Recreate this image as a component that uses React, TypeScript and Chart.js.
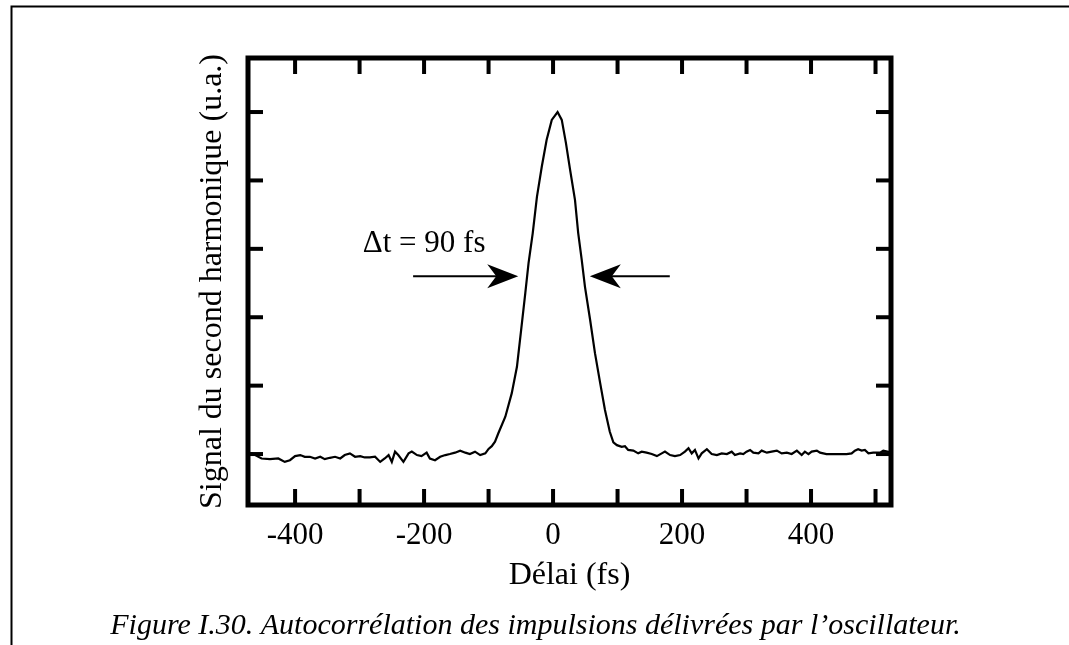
import React, { useEffect, useRef } from "react";
import { Chart, registerables } from "chart.js";

Chart.register(...registerables);

// ---- data ----
const delays = [
  -472, -467, -452, -439, -426, -416, -408, -400, -392, -385, -377, -369, -361, -354, -346, -338,
  -330, -323, -315, -307, -299, -292, -284, -276, -268, -261, -255, -250, -245, -240, -232, -224,
  -219, -211, -204, -196, -191, -183, -175, -167, -160, -152, -144, -136, -129, -121, -113, -105,
  -100, -95, -90, -85, -74, -64, -56, -50, -43, -38, -31.5, -25, -17.5, -10, -2, 7,
  13.5, 20, 26.5, 34, 39, 44.5, 49.5, 57.5, 65, 73, 80.5, 88, 93.5, 99, 106.5, 111.5,
  116.5, 124.5, 132, 137.5, 145, 153, 161, 168.5, 173.5, 181.5, 189, 197, 204.5, 210, 215, 220,
  225.5, 230.5, 238.5, 246, 254, 261.5, 269.5, 277, 282, 290, 295, 300, 305.5, 310.5, 318.5, 323.5,
  331.5, 339, 347, 354.5, 362.5, 370, 378, 385.5, 390.5, 396, 401, 409, 414, 424, 435, 445,
  455, 463, 468, 473, 478.5, 483.5, 489, 496.5, 507, 512, 522,
];
const signal = [
  0.002, 0.002, -0.013, -0.015, -0.013, -0.023, -0.018, -0.006, -0.003, -0.008, -0.008, -0.013, -0.008, -0.015, -0.011, -0.008,
  -0.013, -0.003, 0.002, -0.008, -0.006, -0.01, -0.01, -0.008, -0.023, -0.013, -0.003, -0.023, 0.007, -0.003, -0.023, 0.002,
  0.007, -0.003, -0.006, 0.004, -0.013, -0.018, -0.008, -0.003, 0.0, 0.004, 0.01, 0.004, 0.0, 0.007, -0.003, 0.002,
  0.015, 0.023, 0.036, 0.06, 0.109, 0.178, 0.255, 0.354, 0.471, 0.558, 0.646, 0.752, 0.84, 0.918, 0.977, 1.0,
  0.977, 0.909, 0.83, 0.743, 0.646, 0.567, 0.489, 0.392, 0.295, 0.208, 0.129, 0.065, 0.034, 0.026, 0.021, 0.023,
  0.012, 0.01, 0.002, 0.007, 0.004, 0.0, -0.006, 0.002, 0.007, -0.003, -0.006, -0.003, 0.007, 0.017, 0.002, 0.012,
  -0.013, 0.002, 0.014, 0.0, -0.003, 0.002, 0.0, 0.007, -0.003, 0.002, 0.0, 0.007, 0.012, 0.004, 0.002, 0.01,
  0.004, 0.007, 0.01, 0.002, 0.004, 0.0, 0.01, -0.003, 0.007, 0.0, 0.007, 0.01, 0.004, 0.0, 0.0, 0.0,
  0.0, 0.002, 0.01, 0.014, 0.01, 0.012, 0.002, 0.004, 0.004, 0.01, 0.006,
];

const xMin = -473;
const xMax = 524;
const xTickValues = [-400, -300, -200, -100, 0, 100, 200, 300, 400, 500];
const xLabelledTicks = [-400, -200, 0, 200, 400];
const yMin = -0.149;
const yMax = 1.158;
const yTickValues = [0, 0.2, 0.4, 0.6, 0.8, 1.0];

const xTitle = "Délai (fs)";
const yTitle = "Signal du second harmonique (u.a.)";
const caption = "Figure I.30. Autocorrélation des impulsions délivrées par l’oscillateur.";

const annotationText = "Δt = 90 fs";
const annotationAt = [-295, 0.591]; // [delay, signal] of text baseline start
const arrowY = 0.52;
const leftArrow = [-217, -54]; // [tail, tip]
const rightArrow = [181, 57]; // [tail, tip]

const FONT = "'Liberation Serif', 'Times New Roman', serif";

function drawArrow(ctx: CanvasRenderingContext2D, x0: number, x1: number, y: number) {
  const dir = x1 > x0 ? 1 : -1;
  const len = 31;
  const half = 12;
  const notch = 9;
  ctx.beginPath();
  ctx.moveTo(x0, y);
  ctx.lineTo(x1 - dir * notch, y);
  ctx.lineWidth = 2;
  ctx.stroke();
  ctx.beginPath();
  ctx.moveTo(x1, y);
  ctx.lineTo(x1 - dir * len, y - half);
  ctx.lineTo(x1 - dir * (len - notch), y);
  ctx.lineTo(x1 - dir * len, y + half);
  ctx.closePath();
  ctx.fill();
}

const framePlugin = {
  id: "frameAndMarks",
  beforeDraw(chart: any) {
    const ctx = chart.ctx as CanvasRenderingContext2D;
    ctx.save();
    ctx.fillStyle = "#ffffff";
    ctx.fillRect(0, 0, chart.width, chart.height);
    ctx.strokeStyle = "#000";
    ctx.lineWidth = 2;
    ctx.beginPath();
    ctx.moveTo(11.5, chart.height);
    ctx.lineTo(11.5, 6.5);
    ctx.lineTo(chart.width, 6.5);
    ctx.stroke();
    ctx.restore();
  },
  afterDraw(chart: any) {
    const ctx = chart.ctx as CanvasRenderingContext2D;
    const a = chart.chartArea;
    const x = chart.scales.x;
    const y = chart.scales.y;
    ctx.save();
    ctx.fillStyle = "#000";
    ctx.strokeStyle = "#000";
    for (const t of x.ticks) {
      const px = x.getPixelForValue(t.value);
      ctx.fillRect(px - 2, a.bottom - 16, 4, 16);
      ctx.fillRect(px - 2, a.top, 4, 16);
    }
    for (const t of y.ticks) {
      const py = y.getPixelForValue(t.value);
      ctx.fillRect(a.left, py - 2, 15, 4);
      ctx.fillRect(a.right - 15, py - 2, 15, 4);
    }
    ctx.lineWidth = 5;
    ctx.strokeRect(a.left, a.top, a.right - a.left, a.bottom - a.top);

    ctx.font = `31px ${FONT}`;
    ctx.textAlign = "left";
    ctx.textBaseline = "alphabetic";
    ctx.fillText(annotationText, x.getPixelForValue(annotationAt[0]), y.getPixelForValue(annotationAt[1]));

    const ay = y.getPixelForValue(arrowY);
    drawArrow(ctx, x.getPixelForValue(leftArrow[0]), x.getPixelForValue(leftArrow[1]), ay);
    drawArrow(ctx, x.getPixelForValue(rightArrow[0]), x.getPixelForValue(rightArrow[1]), ay);
    ctx.restore();
  },
};

export default function App() {
  const ref = useRef<HTMLCanvasElement | null>(null);
  useEffect(() => {
    document.body.style.margin = "0";
    const canvas = ref.current!;
    const chart = new Chart(canvas, {
      type: "line",
      data: {
        datasets: [
          {
            data: delays.map((d, i) => ({ x: d, y: signal[i] })),
            borderColor: "#000",
            borderWidth: 2.2,
            pointRadius: 0,
            tension: 0,
            fill: false,
          },
        ],
      },
      options: {
        responsive: false,
        animation: false,
        events: [],
        layout: { padding: { left: 100, right: 98, top: 58, bottom: 0 } },
        plugins: {
          legend: { display: false },
          tooltip: { enabled: false },
          title: {
            display: true,
            position: "bottom",
            text: caption,
            color: "#000",
            font: { family: FONT, size: 30, style: "italic", weight: "normal", lineHeight: 1.2 },
            padding: { top: 0, bottom: 1 },
          },
        },
        scales: {
          x: {
            type: "linear",
            min: xMin,
            max: xMax,
            border: { display: false },
            grid: { display: false, drawTicks: false },
            afterBuildTicks: (s: any) => {
              s.ticks = xTickValues.map((v) => ({ value: v }));
            },
            ticks: {
              autoSkip: false,
              maxRotation: 0,
              padding: 12.4,
              color: "#000",
              font: { family: FONT, size: 31 },
              callback: (v: any) => (xLabelledTicks.includes(Number(v)) ? String(v) : ""),
            },
            title: {
              display: true,
              text: xTitle,
              color: "#000",
              font: { family: FONT, size: 32 },
              padding: { top: 0, bottom: 12.8 },
            },
            afterFit: (s: any) => {
              s.height = 103;
            },
          },
          y: {
            type: "linear",
            min: yMin,
            max: yMax,
            border: { display: false },
            grid: { display: false, drawTicks: false },
            afterBuildTicks: (s: any) => {
              s.ticks = yTickValues.map((v) => ({ value: v }));
            },
            ticks: { display: false },
            title: {
              display: true,
              text: yTitle,
              color: "#000",
              font: { family: FONT, size: 32 },
              padding: { top: 93.3, bottom: 0 },
            },
            afterFit: (s: any) => {
              s.width = 148;
            },
          },
          yRight: {
            type: "linear",
            position: "right",
            display: true,
            border: { display: false },
            grid: { display: false, drawTicks: false },
            ticks: { display: false },
            afterFit: (s: any) => {
              s.width = 80;
            },
          },
        },
      },
      plugins: [framePlugin],
    });
    return () => chart.destroy();
  }, []);
  return (
    <div style={{ position: "fixed", left: 0, top: 0, width: 1069, height: 645, background: "#fff" }}>
      <canvas ref={ref} width={1069} height={645} style={{ width: 1069, height: 645, display: "block" }} />
    </div>
  );
}
